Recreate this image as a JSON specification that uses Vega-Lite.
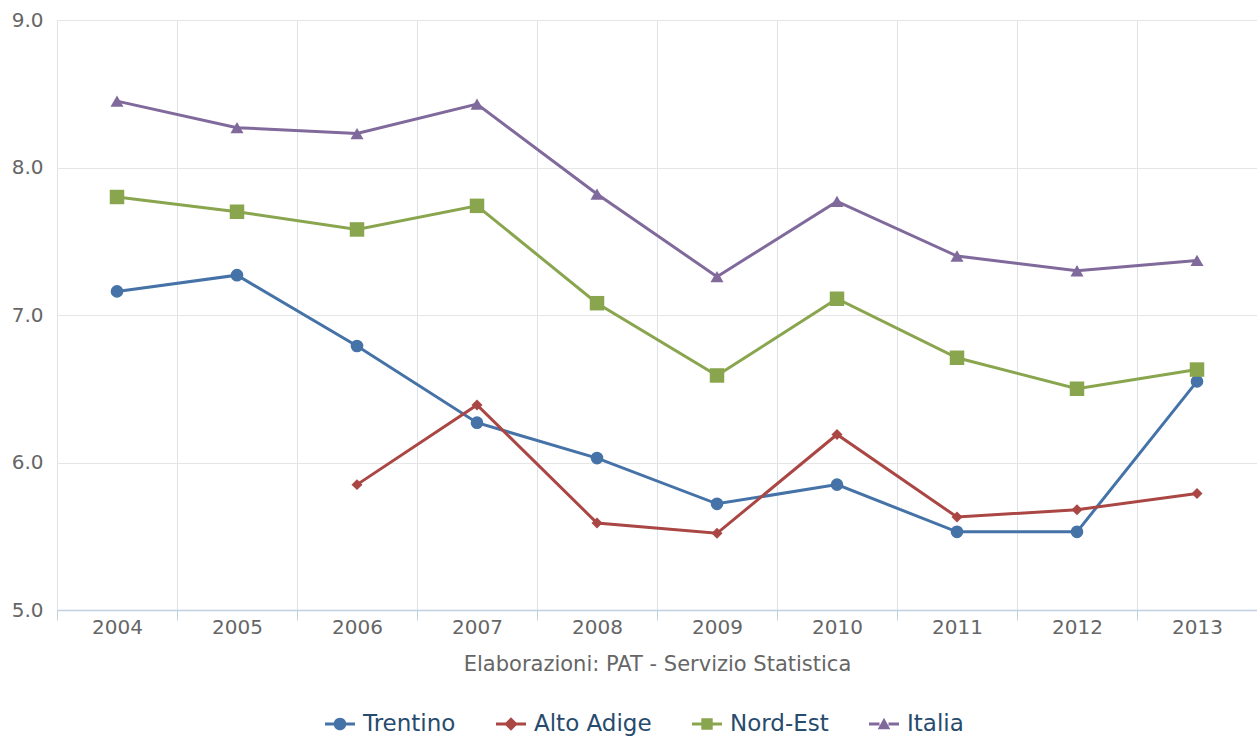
{
  "$schema": "https://vega.github.io/schema/vega-lite/v6.json",
  "width": 1200,
  "height": 590,
  "autosize": {"type": "none"},
  "padding": {"left": 57, "top": 20, "right": 0, "bottom": 127},
  "background": "white",
  "config": {
    "font": "DejaVu Sans",
    "view": {"stroke": null},
    "axis": {"labelFont": "DejaVu Sans", "titleFont": "DejaVu Sans"}
  },
  "data": {
    "values": [
      {"year": "2004", "series": "Trentino", "value": 7.16},
      {"year": "2005", "series": "Trentino", "value": 7.27},
      {"year": "2006", "series": "Trentino", "value": 6.79},
      {"year": "2007", "series": "Trentino", "value": 6.27},
      {"year": "2008", "series": "Trentino", "value": 6.03},
      {"year": "2009", "series": "Trentino", "value": 5.72},
      {"year": "2010", "series": "Trentino", "value": 5.85},
      {"year": "2011", "series": "Trentino", "value": 5.53},
      {"year": "2012", "series": "Trentino", "value": 5.53},
      {"year": "2013", "series": "Trentino", "value": 6.55},
      {"year": "2006", "series": "Alto Adige", "value": 5.85},
      {"year": "2007", "series": "Alto Adige", "value": 6.39},
      {"year": "2008", "series": "Alto Adige", "value": 5.59},
      {"year": "2009", "series": "Alto Adige", "value": 5.52},
      {"year": "2010", "series": "Alto Adige", "value": 6.19},
      {"year": "2011", "series": "Alto Adige", "value": 5.63},
      {"year": "2012", "series": "Alto Adige", "value": 5.68},
      {"year": "2013", "series": "Alto Adige", "value": 5.79},
      {"year": "2004", "series": "Nord-Est", "value": 7.80},
      {"year": "2005", "series": "Nord-Est", "value": 7.70},
      {"year": "2006", "series": "Nord-Est", "value": 7.58},
      {"year": "2007", "series": "Nord-Est", "value": 7.74},
      {"year": "2008", "series": "Nord-Est", "value": 7.08},
      {"year": "2009", "series": "Nord-Est", "value": 6.59},
      {"year": "2010", "series": "Nord-Est", "value": 7.11},
      {"year": "2011", "series": "Nord-Est", "value": 6.71},
      {"year": "2012", "series": "Nord-Est", "value": 6.50},
      {"year": "2013", "series": "Nord-Est", "value": 6.63},
      {"year": "2004", "series": "Italia", "value": 8.45},
      {"year": "2005", "series": "Italia", "value": 8.27},
      {"year": "2006", "series": "Italia", "value": 8.23},
      {"year": "2007", "series": "Italia", "value": 8.43},
      {"year": "2008", "series": "Italia", "value": 7.82},
      {"year": "2009", "series": "Italia", "value": 7.26},
      {"year": "2010", "series": "Italia", "value": 7.77},
      {"year": "2011", "series": "Italia", "value": 7.40},
      {"year": "2012", "series": "Italia", "value": 7.30},
      {"year": "2013", "series": "Italia", "value": 7.37}
    ]
  },
  "encoding": {
    "x": {
      "field": "year", "type": "ordinal",
      "scale": {"type": "band", "paddingInner": 0, "paddingOuter": 0},
      "axis": {
        "title": "Elaborazioni: PAT - Servizio Statistica",
        "titleFontSize": 21, "titleFontWeight": "normal", "titleColor": "#666666", "titlePadding": 16,
        "labelAngle": 0, "labelFontSize": 20, "labelColor": "#666666", "labelPadding": -3,
        "tickBand": "extent", "grid": true, "gridColor": "#DDE3EA",
        "domainColor": "#C0D0E0", "domainWidth": 1.5, "tickColor": "#C0D0E0", "tickSize": 10
      }
    },
    "y": {
      "field": "value", "type": "quantitative",
      "scale": {"domain": [5, 9], "nice": false, "zero": false},
      "axis": {
        "title": null, "values": [5, 6, 7, 8, 9], "format": ".1f",
        "labelFontSize": 20, "labelColor": "#666666", "labelPadding": 14,
        "domain": false, "ticks": false, "gridColor": "#E6E6E6", "gridWidth": 1.2
      }
    },
    "color": {
      "field": "series", "type": "nominal",
      "scale": {"domain": ["Trentino", "Alto Adige", "Nord-Est", "Italia"], "range": ["#4572A7", "#AA4643", "#89A54E", "#80699B"]},
      "legend": {
        "title": null, "orient": "none", "direction": "horizontal",
        "legendX": 268, "legendY": 689, "padding": 0,
        "labelFontSize": 23, "labelColor": "#274b6d", "labelFont": "DejaVu Sans",
        "symbolSize": 900, "symbolStrokeWidth": 0, "symbolOpacity": 1,
        "columnPadding": 40, "labelOffset": 8
      }
    }
  },
  "layer": [
    {
      "mark": {"type": "line", "strokeWidth": 3}
    },
    {
      "transform": [{"filter": "datum.series === 'Trentino'"}],
      "mark": {"type": "point", "shape": "circle", "filled": true, "opacity": 1, "size": 160}
    },
    {
      "transform": [{"filter": "datum.series === 'Alto Adige'"}],
      "mark": {"type": "point", "shape": "diamond", "filled": true, "opacity": 1, "size": 120}
    },
    {
      "transform": [{"filter": "datum.series === 'Nord-Est'"}],
      "mark": {"type": "point", "shape": "square", "filled": true, "opacity": 1, "size": 210}
    },
    {
      "transform": [{"filter": "datum.series === 'Italia'"}],
      "mark": {"type": "point", "shape": "triangle-up", "filled": true, "opacity": 1, "size": 170}
    },
    {
      "transform": [{"filter": "datum.value < 0"}],
      "mark": {"type": "point", "filled": true, "opacity": 1},
      "encoding": {
        "shape": {
          "field": "series", "type": "nominal",
          "scale": {
            "domain": ["Trentino", "Alto Adige", "Nord-Est", "Italia"],
            "range": [
              "M-1,-0.1 L-0.3,-0.1 L-0.3,0.1 L-1,0.1 Z M0.3,-0.1 L1,-0.1 L1,0.1 L0.3,0.1 Z M-0.42,0 A0.42,0.42 0 1,1 0.42,0 A0.42,0.42 0 1,1 -0.42,0 Z",
              "M-1,-0.1 L-0.3,-0.1 L-0.3,0.1 L-1,0.1 Z M0.3,-0.1 L1,-0.1 L1,0.1 L0.3,0.1 Z M0,-0.45 L0.45,0 L0,0.45 L-0.45,0 Z",
              "M-1,-0.1 L-0.38,-0.1 L-0.38,0.1 L-1,0.1 Z M0.38,-0.1 L1,-0.1 L1,0.1 L0.38,0.1 Z M-0.38,-0.38 L0.38,-0.38 L0.38,0.38 L-0.38,0.38 Z",
              "M-1,-0.1 L-0.3,-0.1 L-0.3,0.1 L-1,0.1 Z M0.3,-0.1 L1,-0.1 L1,0.1 L0.3,0.1 Z M0,-0.42 L0.42,0.35 L-0.42,0.35 Z"
            ]
          },
          "legend": {
            "title": null, "orient": "none", "direction": "horizontal",
            "legendX": 268, "legendY": 689, "padding": 0,
            "labelFontSize": 23, "labelColor": "#274b6d", "labelFont": "DejaVu Sans",
            "symbolSize": 900, "symbolStrokeWidth": 0, "symbolOpacity": 1,
            "columnPadding": 40, "labelOffset": 8
          }
        }
      }
    }
  ]
}
